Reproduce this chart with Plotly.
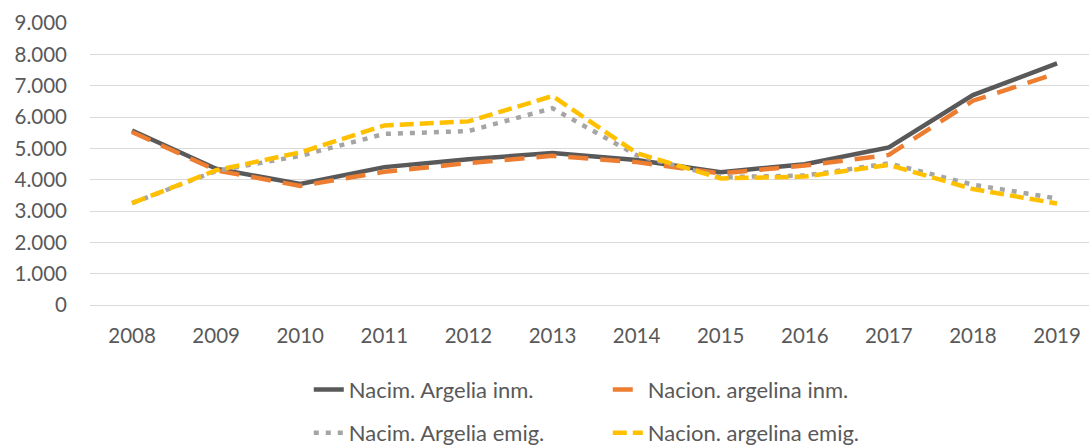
import plotly.graph_objects as go

years = ["2008", "2009", "2010", "2011", "2012", "2013",
         "2014", "2015", "2016", "2017", "2018", "2019"]

nacim_inm = [5570, 4350, 3860, 4400, 4650, 4850, 4630, 4240, 4490, 5030, 6700, 7710]
nacion_inm = [5520, 4300, 3800, 4250, 4530, 4760, 4560, 4200, 4450, 4790, 6520, 7400]
nacim_emig = [3250, 4280, 4760, 5460, 5550, 6280, 4780, 4080, 4130, 4520, 3840, 3400]
nacion_emig = [3250, 4300, 4870, 5730, 5860, 6670, 4850, 4040, 4100, 4470, 3700, 3240]

series = [
    ("Nacim. Argelia inm.", nacim_inm, "#595959", "solid", "legend"),
    ("Nacion. argelina inm.", nacion_inm, "#ED7D31", "20px,12px", "legend"),
    ("Nacim. Argelia emig.", nacim_emig, "#A5A5A5", "5px,7px", "legend2"),
    ("Nacion. argelina emig.", nacion_emig, "#FFC000", "14px,6px", "legend2"),
]

fig = go.Figure()
for name, vals, color, dash, leg in series:
    fig.add_trace(go.Scatter(
        x=years, y=vals, name=name, mode="lines",
        line=dict(color=color, width=4.5, dash=dash),
        legend=leg,
    ))

font = dict(family="Lato, 'Open Sans', sans-serif", size=20.5, color="#595959")
legend_font = dict(family="Lato, 'Open Sans', sans-serif", size=22, color="#595959")

fig.update_layout(
    width=1089, height=445,
    margin=dict(l=90, r=0, t=23, b=140),
    paper_bgcolor="white", plot_bgcolor="white",
    font=font,
    separators=",.",
    xaxis=dict(
        type="category", range=[-0.5, 11.38],
        showgrid=False, showline=False, ticks="",
        ticklabelstandoff=16, automargin=False,
    ),
    yaxis=dict(
        range=[0, 9000], dtick=1000, tickformat=",d",
        showgrid=True, gridcolor="#D9D9D9", gridwidth=1.3,
        zeroline=True, zerolinecolor="#D9D9D9", zerolinewidth=1.3,
        showline=False, ticks="", ticklabelstandoff=22, automargin=False,
    ),
    legend=dict(
        orientation="h", x=0.219, xanchor="left",
        yref="container", y=0.124, yanchor="middle",
        entrywidth=254, entrywidthmode="pixels", font=legend_font,
        bgcolor="rgba(0,0,0,0)",
    ),
    legend2=dict(
        orientation="h", x=0.219, xanchor="left",
        yref="container", y=0.027, yanchor="middle",
        entrywidth=254, entrywidthmode="pixels", font=legend_font,
        bgcolor="rgba(0,0,0,0)",
    ),
)

fig.write_html("out.html")
